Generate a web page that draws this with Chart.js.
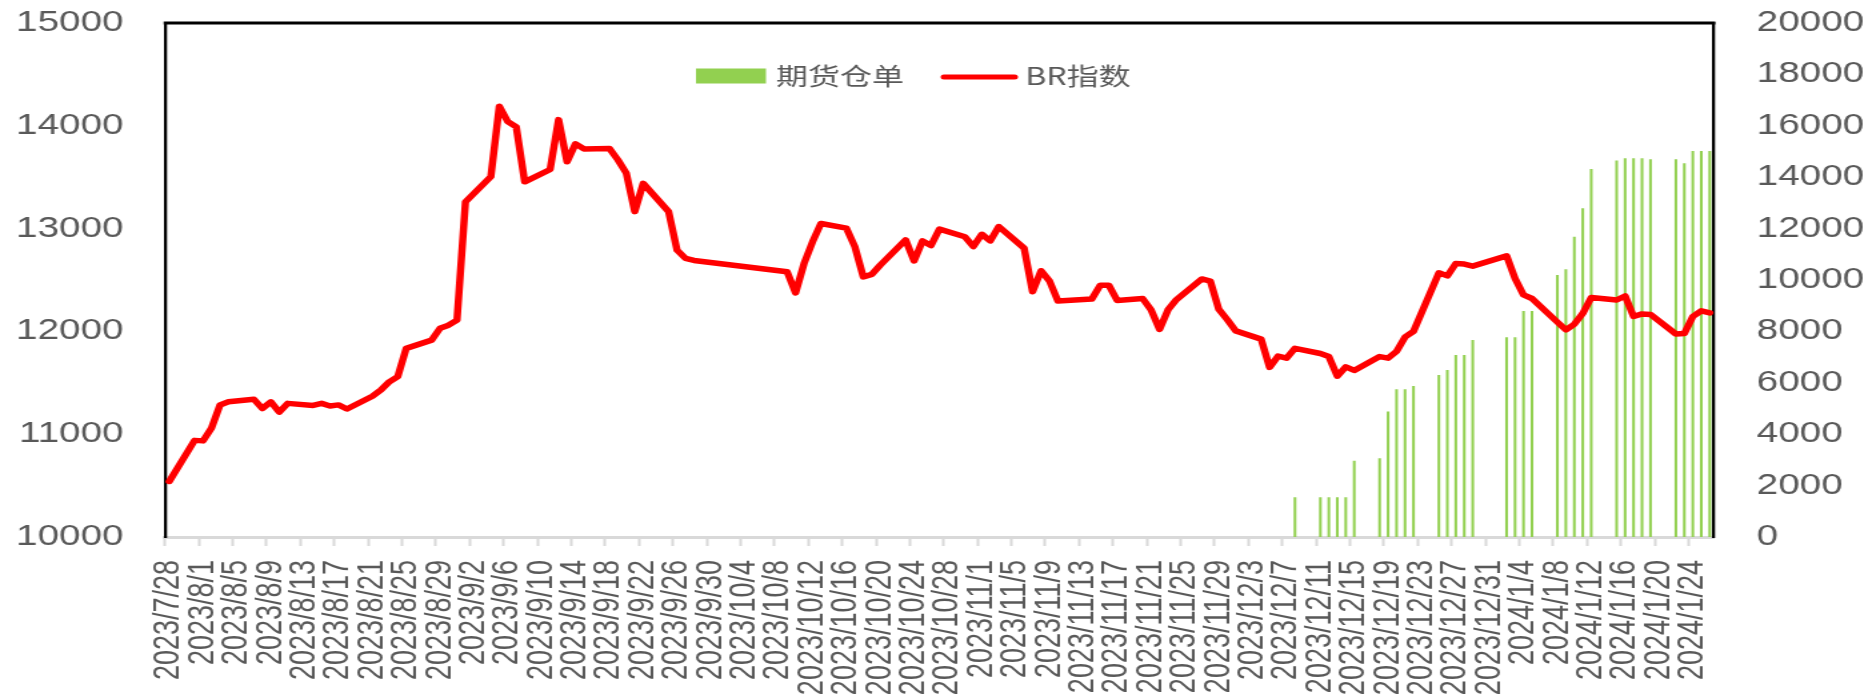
<!DOCTYPE html>
<html>
<head>
    <meta charset="UTF-8">
    <title>BR指数与期货仓单</title>
    <script src="https://cdn.jsdelivr.net/npm/chart.js"></script>
    <style>
        html, body {
            margin: 0;
            background: #fff;
            overflow: hidden;
        }
        /* the source picture is stretched sideways, so the chart is drawn narrow and widened */
        #wrap {
            position: absolute;
            left: 0;
            top: 0;
            width: 1404px;
            height: 699px;
            transform: scaleX(1.33333);
            transform-origin: 0 0;
        }
    </style>
</head>
<body>
    <div id="wrap"><canvas id="chart"></canvas></div>
    <script>
        // trading days and BR index close
        const tradeDays = [
            '2023/7/28', '2023/7/31', '2023/8/1', '2023/8/2', '2023/8/3', '2023/8/4',
            '2023/8/7', '2023/8/8', '2023/8/9', '2023/8/10', '2023/8/11',
            '2023/8/14', '2023/8/15', '2023/8/16', '2023/8/17', '2023/8/18',
            '2023/8/21', '2023/8/22', '2023/8/23', '2023/8/24', '2023/8/25',
            '2023/8/28', '2023/8/29', '2023/8/30', '2023/8/31', '2023/9/1',
            '2023/9/4', '2023/9/5', '2023/9/6', '2023/9/7', '2023/9/8',
            '2023/9/11', '2023/9/12', '2023/9/13', '2023/9/14', '2023/9/15',
            '2023/9/18', '2023/9/19', '2023/9/20', '2023/9/21', '2023/9/22',
            '2023/9/25', '2023/9/26', '2023/9/27', '2023/9/28',
            '2023/10/9', '2023/10/10', '2023/10/11', '2023/10/12', '2023/10/13',
            '2023/10/16', '2023/10/17', '2023/10/18', '2023/10/19', '2023/10/20',
            '2023/10/23', '2023/10/24', '2023/10/25', '2023/10/26', '2023/10/27',
            '2023/10/30', '2023/10/31', '2023/11/1', '2023/11/2', '2023/11/3',
            '2023/11/6', '2023/11/7', '2023/11/8', '2023/11/9', '2023/11/10',
            '2023/11/13', '2023/11/14', '2023/11/15', '2023/11/16', '2023/11/17',
            '2023/11/20', '2023/11/21', '2023/11/22', '2023/11/23', '2023/11/24',
            '2023/11/27', '2023/11/28', '2023/11/29', '2023/11/30', '2023/12/1',
            '2023/12/4', '2023/12/5', '2023/12/6', '2023/12/7', '2023/12/8',
            '2023/12/11', '2023/12/12', '2023/12/13', '2023/12/14', '2023/12/15',
            '2023/12/18', '2023/12/19', '2023/12/20', '2023/12/21', '2023/12/22',
            '2023/12/25', '2023/12/26', '2023/12/27', '2023/12/28', '2023/12/29',
            '2024/1/2', '2024/1/3', '2024/1/4', '2024/1/5',
            '2024/1/8', '2024/1/9', '2024/1/10', '2024/1/11', '2024/1/12',
            '2024/1/15', '2024/1/16', '2024/1/17', '2024/1/18', '2024/1/19',
            '2024/1/22', '2024/1/23', '2024/1/24', '2024/1/25', '2024/1/26'
        ];
        const brIndex = [
            10540, 10940, 10935, 11060, 11285, 11315,
            11340, 11250, 11315, 11215, 11300,
            11280, 11300, 11275, 11285, 11245,
            11370, 11430, 11510, 11560, 11835,
            11915, 12030, 12060, 12110, 13260,
            13505, 14190, 14040, 13990, 13455,
            13575, 14060, 13650, 13825, 13775,
            13780, 13670, 13540, 13165, 13440,
            13165, 12790, 12710, 12690,
            12580, 12375, 12660, 12870, 13050,
            13005, 12825, 12530, 12555, 12645,
            12890, 12685, 12880, 12835, 12995,
            12920, 12825, 12945, 12880, 13020,
            12810, 12385, 12590, 12490, 12295,
            12310, 12315, 12450, 12450, 12300,
            12320, 12210, 12020, 12210, 12310,
            12510, 12490, 12215, 12115, 12005,
            11925, 11650, 11760, 11740, 11835,
            11785, 11755, 11565, 11655, 11620,
            11755, 11740, 11805, 11945, 12000,
            12570, 12540, 12660, 12655, 12635,
            12735, 12515, 12355, 12320,
            12090, 12015, 12070, 12175, 12330,
            12305, 12345, 12145, 12170, 12165,
            11975, 11980, 12145, 12200, 12180
        ];

        // futures warehouse receipts
        const receiptDays = [
            '2023/12/8', '2023/12/11', '2023/12/12', '2023/12/13', '2023/12/14', '2023/12/15',
            '2023/12/18', '2023/12/19', '2023/12/20', '2023/12/21', '2023/12/22',
            '2023/12/25', '2023/12/26', '2023/12/27', '2023/12/28', '2023/12/29',
            '2024/1/2', '2024/1/3', '2024/1/4', '2024/1/5',
            '2024/1/8', '2024/1/9', '2024/1/10', '2024/1/11', '2024/1/12',
            '2024/1/15', '2024/1/16', '2024/1/17', '2024/1/18', '2024/1/19',
            '2024/1/22', '2024/1/23', '2024/1/24', '2024/1/25', '2024/1/26'
        ];
        const receipts = [
            1545, 1545, 1545, 1545, 1545, 2970,
            3060, 4880, 5745, 5745, 5875,
            6305, 6500, 7080, 7080, 7665,
            7770, 7770, 8795, 8795,
            10195, 10415, 11685, 12790, 14320,
            14645, 14735, 14735, 14735, 14695,
            14695, 14540, 15020, 15020, 15020
        ];

        const START_DAY = '2023/7/28';
        const END_DAY = '2024/1/26';
        const LABEL_STEP = 4;

        // date axis: every calendar day is a category
        const days = [];
        const d = new Date(START_DAY);
        const end = new Date(END_DAY);
        while (d <= end) {
            days.push(`${d.getFullYear()}/${d.getMonth() + 1}/${d.getDate()}`);
            d.setDate(d.getDate() + 1);
        }

        function onDays(keys, values) {
            const map = new Map(keys.map((k, i) => [k, values[i]]));
            return days.map(k => map.has(k) ? map.get(k) : null);
        }

        const GRAY = '#595959';

        // keep the plot box where the source has it
        function fixWidth(w) {
            return s => {
                s.width = w;
                s.paddingTop = 0;
                s.paddingBottom = 0;
            };
        }

        const frame = {
            id: 'frame',
            afterDatasetsDraw(chart) {
                const { ctx, chartArea } = chart;
                ctx.save();
                ctx.strokeStyle = '#000';
                ctx.lineWidth = 3;
                ctx.beginPath();
                ctx.moveTo(chartArea.left - 1, chartArea.top);
                ctx.lineTo(chartArea.right + 1, chartArea.top);
                ctx.stroke();
                ctx.restore();
            }
        };

        // legend sits inside the plot, near the top
        const insideLegend = {
            id: 'insideLegend',
            afterDraw(chart) {
                const { ctx } = chart;
                const bars = chart.data.datasets[0];
                const line = chart.data.datasets[1];
                const cy = 76;
                ctx.save();
                ctx.font = '24px "Noto Sans CJK SC", sans-serif';
                ctx.textBaseline = 'middle';
                ctx.fillStyle = bars.backgroundColor;
                ctx.fillRect(522, cy - 7.5, 52.5, 15);
                ctx.fillStyle = GRAY;
                ctx.fillText(bars.label, 582, cy);
                ctx.strokeStyle = line.borderColor;
                ctx.lineWidth = 5;
                ctx.lineCap = 'round';
                ctx.beginPath();
                ctx.moveTo(708, cy + 1);
                ctx.lineTo(761, cy + 1);
                ctx.stroke();
                ctx.fillText(line.label, 769, cy);
                ctx.restore();
            }
        };

        new Chart(document.getElementById('chart'), {
            type: 'bar',
            data: {
                labels: days,
                datasets: [{
                    label: '期货仓单',
                    data: onDays(receiptDays, receipts),
                    yAxisID: 'y1',
                    backgroundColor: '#92d050',
                    barPercentage: 0.32,
                    categoryPercentage: 1,
                    order: 2
                }, {
                    type: 'line',
                    label: 'BR指数',
                    data: onDays(tradeDays, brIndex),
                    yAxisID: 'y',
                    borderColor: '#ff0000',
                    borderWidth: 5.5,
                    borderJoinStyle: 'round',
                    borderCapStyle: 'round',
                    pointRadius: 0,
                    tension: 0,
                    spanGaps: true,
                    order: 1
                }]
            },
            options: {
                responsive: true,
                maintainAspectRatio: false,
                animation: false,
                devicePixelRatio: 1,
                layout: { padding: { top: 23, left: 0, right: 0, bottom: 0 } },
                plugins: {
                    legend: { display: false },
                    tooltip: { enabled: false }
                },
                scales: {
                    x: {
                        offset: true,
                        afterFit: s => { s.height = 162; },
                        border: { color: '#d9d9d9', width: 3 },
                        grid: {
                            offset: true,
                            drawOnChartArea: false,
                            drawTicks: true,
                            tickLength: 9,
                            tickWidth: 2,
                            tickColor: c => c.index % LABEL_STEP === 0 ? '#d9d9d9' : 'rgba(0,0,0,0)'
                        },
                        ticks: {
                            autoSkip: false,
                            maxRotation: 90,
                            minRotation: 90,
                            padding: 14,
                            color: GRAY,
                            font: { family: 'Liberation Sans', size: 27 },
                            callback: (v, i) => i % LABEL_STEP === 0 ? days[i] : ''
                        }
                    },
                    y: {
                        position: 'left',
                        min: 10000,
                        max: 15000,
                        afterFit: fixWidth(123.75),
                        border: { color: '#000', width: 2.3 },
                        grid: { display: false, drawTicks: false },
                        ticks: {
                            stepSize: 1000,
                            padding: 31,
                            color: GRAY,
                            font: { family: 'Liberation Sans', size: 29 },
                            callback: v => String(v)
                        }
                    },
                    y1: {
                        position: 'right',
                        min: 0,
                        max: 20000,
                        afterFit: fixWidth(118.5),
                        border: { color: '#000', width: 2.3 },
                        grid: { display: false, drawTicks: false },
                        ticks: {
                            stepSize: 2000,
                            padding: 32,
                            color: GRAY,
                            font: { family: 'Liberation Sans', size: 29 },
                            callback: v => String(v)
                        }
                    }
                }
            },
            plugins: [frame, insideLegend]
        });
    </script>
</body>
</html>
